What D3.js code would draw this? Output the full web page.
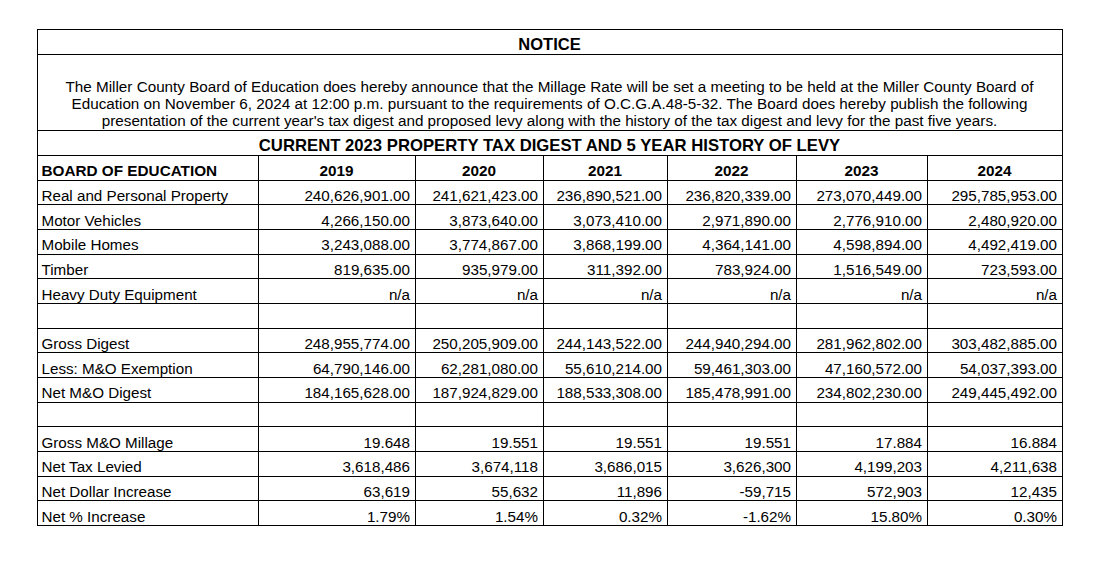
<!DOCTYPE html>
<html>
<head>
<meta charset="utf-8">
<script src="https://cdn.jsdelivr.net/npm/d3@7"></script>
<style>
  body { margin: 0; background: #fff; }
  text { font-family: 'Liberation Sans', Arial, sans-serif; fill: #000; }
</style>
</head>
<body>
<script>
// table values
var years = ['2019', '2020', '2021', '2022', '2023', '2024'];
var realPersonal = [240626901, 241621423, 236890521, 236820339, 273070449, 295785953];
var motorVehicles = [4266150, 3873640, 3073410, 2971890, 2776910, 2480920];
var mobileHomes = [3243088, 3774867, 3868199, 4364141, 4598894, 4492419];
var timber = [819635, 935979, 311392, 783924, 1516549, 723593];
var heavyDuty = [null, null, null, null, null, null];
var grossDigest = [248955774, 250205909, 244143522, 244940294, 281962802, 303482885];
var moExemption = [64790146, 62281080, 55610214, 59461303, 47160572, 54037393];
var netMoDigest = [184165628, 187924829, 188533308, 185478991, 234802230, 249445492];
var grossMillage = [19.648, 19.551, 19.551, 19.551, 17.884, 16.884];
var netTaxLevied = [3618486, 3674118, 3686015, 3626300, 4199203, 4211638];
var netDollarIncrease = [63619, 55632, 11896, -59715, 572903, 12435];
var netPctIncrease = [1.79, 1.54, 0.32, -1.62, 15.80, 0.30];

var noticeTitle = 'NOTICE';
var noticeLines = [
  'The Miller County Board of Education does hereby announce that the Millage Rate will be set a meeting to be held at the Miller County Board of',
  'Education on November 6, 2024 at 12:00 p.m. pursuant to the requirements of O.C.G.A.48-5-32. The Board does hereby publish the following',
  "presentation of the current year's tax digest and proposed levy along with the history of the tax digest and levy for the past five years."
];
var tableTitle = 'CURRENT 2023 PROPERTY TAX DIGEST AND 5 YEAR HISTORY OF LEVY';
var headerLabel = 'BOARD OF EDUCATION';

var locale = d3.formatLocale({decimal: '.', thousands: ',', grouping: [3], currency: ['$', ''], minus: '-'});
var money = locale.format(',.2f');
var whole = locale.format(',d');
var mill = locale.format('.3f');
var pct = function(v) { return locale.format('.2f')(v) + '%'; };

var rows = [
  {label: 'Real and Personal Property', values: realPersonal, fmt: money},
  {label: 'Motor Vehicles', values: motorVehicles, fmt: money},
  {label: 'Mobile Homes', values: mobileHomes, fmt: money},
  {label: 'Timber', values: timber, fmt: money},
  {label: 'Heavy Duty Equipment', values: heavyDuty, fmt: money},
  {label: '', values: []},
  {label: 'Gross Digest', values: grossDigest, fmt: money},
  {label: 'Less: M&O Exemption', values: moExemption, fmt: money},
  {label: 'Net M&O Digest', values: netMoDigest, fmt: money},
  {label: '', values: []},
  {label: 'Gross M&O Millage', values: grossMillage, fmt: mill},
  {label: 'Net Tax Levied', values: netTaxLevied, fmt: whole},
  {label: 'Net Dollar Increase', values: netDollarIncrease, fmt: whole},
  {label: 'Net % Increase', values: netPctIncrease, fmt: pct}
];

// layout
var width = 1093, height = 561;
var boxLeft = 37, boxRight = 1062, boxTop = 29;
var noticeBottom = 54, paraBottom = 130, titleBottom = 155, tableBottom = 525;
var colWidths = [221, 157, 128, 124, 129, 131, 135];
var colEdges = [boxLeft].concat(Array.from(d3.cumsum(colWidths), function(d) { return boxLeft + d; }));

var colKeys = ['label'].concat(years);
var x = d3.scaleOrdinal().domain(colKeys).range(colEdges.slice(0, -1));
var xEnd = d3.scaleOrdinal().domain(colKeys).range(colEdges.slice(1));

var rowKeys = d3.range(rows.length + 1);
var y = d3.scaleBand().domain(rowKeys).range([titleBottom, tableBottom]).padding(0);

var svg = d3.select('body').append('svg')
  .attr('width', width)
  .attr('height', height);

var lines = svg.append('g')
  .attr('stroke', '#000')
  .attr('stroke-width', 1)
  .attr('shape-rendering', 'crispEdges');

// horizontal rules
var hs = [boxTop, noticeBottom, paraBottom].concat(rowKeys.map(function(k) { return y(k); }), [tableBottom]);
lines.selectAll('line.h')
  .data(hs)
  .enter()
  .append('line')
  .attr('x1', boxLeft)
  .attr('x2', boxRight + 1)
  .attr('y1', function(d) { return Math.round(d) + 0.5; })
  .attr('y2', function(d) { return Math.round(d) + 0.5; });

// outer sides
lines.selectAll('line.side')
  .data([boxLeft, boxRight])
  .enter()
  .append('line')
  .attr('x1', function(d) { return d + 0.5; })
  .attr('x2', function(d) { return d + 0.5; })
  .attr('y1', boxTop)
  .attr('y2', tableBottom + 1);

// column dividers
lines.selectAll('line.col')
  .data(colEdges.slice(1, -1))
  .enter()
  .append('line')
  .attr('x1', function(d) { return d + 0.5; })
  .attr('x2', function(d) { return d + 0.5; })
  .attr('y1', titleBottom)
  .attr('y2', tableBottom + 1);

var cx = (boxLeft + boxRight) / 2;

svg.append('text')
  .attr('x', cx)
  .attr('y', noticeBottom - 4)
  .attr('text-anchor', 'middle')
  .style('font-size', '16.5px')
  .style('font-weight', 'bold')
  .text(noticeTitle);

svg.append('g')
  .selectAll('text')
  .data(noticeLines)
  .enter()
  .append('text')
  .attr('x', cx)
  .attr('y', function(d, i) { return 91.5 + i * 17.2; })
  .attr('text-anchor', 'middle')
  .style('font-size', '15.25px')
  .text(function(d) { return d; });

svg.append('text')
  .attr('x', cx)
  .attr('y', titleBottom - 4)
  .attr('text-anchor', 'middle')
  .style('font-size', '16.7px')
  .style('font-weight', 'bold')
  .text(tableTitle);

// header row
var header = svg.append('g')
  .style('font-size', '15.3px')
  .style('font-weight', 'bold');

header.append('text')
  .attr('x', x('label') + 4.5)
  .attr('y', y(0) + y.bandwidth() - 3.5)
  .text(headerLabel);

header.selectAll('text.year')
  .data(years)
  .enter()
  .append('text')
  .attr('x', function(d) { return (x(d) + xEnd(d)) / 2; })
  .attr('y', y(0) + y.bandwidth() - 3.5)
  .attr('text-anchor', 'middle')
  .text(function(d) { return d; });

// body rows
var body = svg.append('g').style('font-size', '15.2px');

var rowG = body.selectAll('g.row')
  .data(rows)
  .enter()
  .append('g')
  .attr('transform', function(d, i) { return 'translate(0,' + (y(i + 1) + y.bandwidth() - 3.5) + ')'; });

rowG.append('text')
  .attr('x', x('label') + 4.5)
  .text(function(d) { return d.label; });

rowG.selectAll('text.val')
  .data(function(d) {
    return d.values.map(function(v, j) { return {year: years[j], v: v, fmt: d.fmt}; });
  })
  .enter()
  .append('text')
  .attr('x', function(d) { return xEnd(d.year) - 5; })
  .attr('text-anchor', 'end')
  .text(function(d) { return d.v === null ? 'n/a' : d.fmt(d.v); });
</script>
</body>
</html>
